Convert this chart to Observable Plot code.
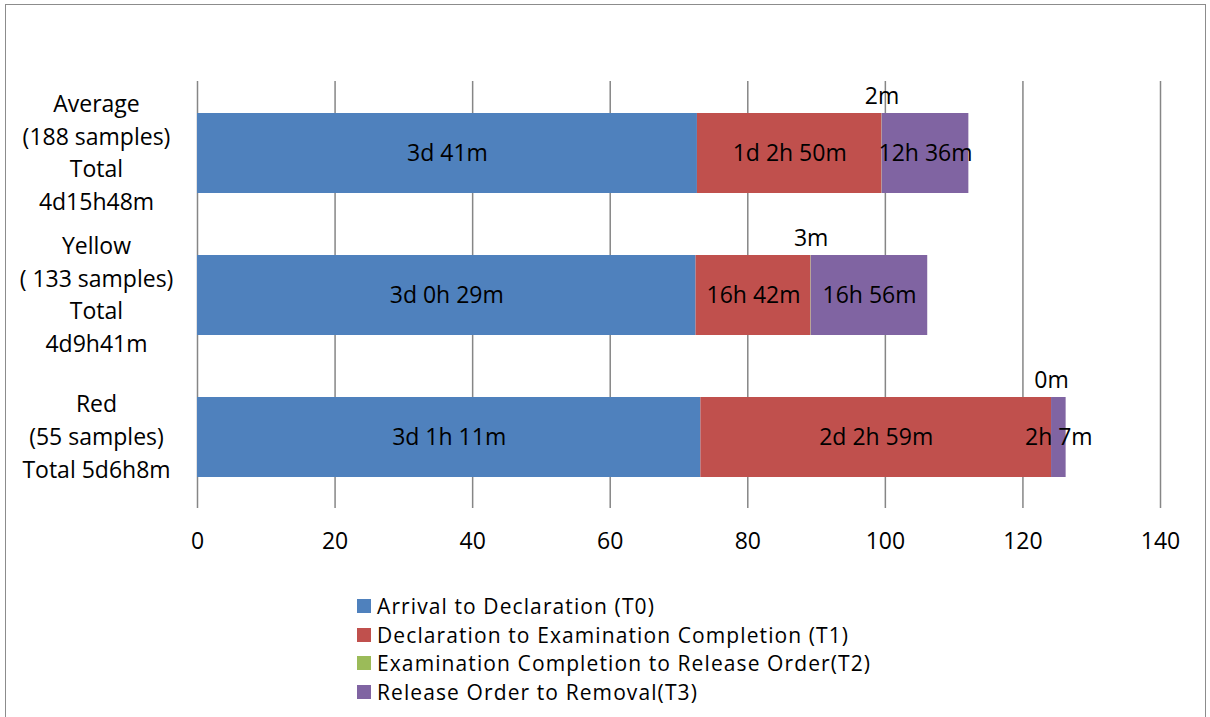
<!DOCTYPE html>
<html><head><meta charset="utf-8">
<script src="https://cdn.jsdelivr.net/npm/d3@7"></script>
<script src="https://cdn.jsdelivr.net/npm/@observablehq/plot@0.6"></script>
<style>
html,body{margin:0;padding:0;background:#fff;}
body{font-family:"Open Sans",Lato,sans-serif;width:1210px;height:717px;overflow:hidden;position:relative;}
#frame{position:absolute;left:5px;top:4px;width:1201px;height:760px;border:1.5px solid #8c8c8c;box-sizing:border-box;}
#chart{position:absolute;left:0;top:0;}
#legend{position:absolute;left:357px;top:592px;font-size:21px;letter-spacing:1.1px;color:#000;}
.row{height:28.5px;line-height:28px;display:flex;align-items:center;white-space:nowrap;}
.sw{width:14px;height:14px;margin-right:6px;flex:none;}
</style>
</head><body>
<div id="frame"></div>
<div id="chart"></div>
<div id="legend"></div>
<script>
const categories = ["Average", "Yellow", "Red"];
const categoryLabels = [
  "Average\n(188 samples)\nTotal\n4d15h48m",
  "Yellow\n( 133 samples)\nTotal\n4d9h41m",
  "Red\n(55 samples)\nTotal 5d6h8m"
];
const seriesNames = [
  "Arrival to Declaration (T0)",
  "Declaration to Examination Completion (T1)",
  "Examination Completion to Release Order(T2)",
  "Release Order to Removal(T3)"
];
const seriesColors = ["#4F81BD", "#C0504D", "#9BBB59", "#8064A2"];
// hours
const t0Hours = [72.68, 72.48, 73.18];
const t1Hours = [26.83, 16.70, 50.98];
const t2Hours = [0.03, 0.05, 0.0];
const t3Hours = [12.60, 16.93, 2.12];
const t0Labels = ["3d 41m", "3d 0h 29m", "3d 1h 11m"];
const t1Labels = ["1d 2h 50m", "16h 42m", "2d 2h 59m"];
const t2Labels = ["2m", "3m", "0m"];
const t3Labels = ["12h 36m", "16h 56m", "2h 7m"];
const xTicks = [0, 20, 40, 60, 80, 100, 120, 140];

const seriesValues = [t0Hours, t1Hours, t2Hours, t3Hours];
const seriesLabels = [t0Labels, t1Labels, t2Labels, t3Labels];

const data = [];
categories.forEach((c, i) => {
  let start = 0;
  seriesNames.forEach((s, j) => {
    data.push({cat: c, series: s, value: seriesValues[j][i], label: seriesLabels[j][i], start});
    start += seriesValues[j][i];
  });
});
const t2Rows = data.filter(d => d.series === seriesNames[2]);
const labelMap = new Map(categories.map((c, i) => [c, categoryLabels[i]]));
const FS = 23;

const chart = Plot.plot({
  width: 1210,
  height: 570,
  marginTop: 81,
  marginBottom: 62,
  marginLeft: 197,
  marginRight: 50,
  style: {fontFamily: "'Open Sans', Lato, sans-serif", fontSize: FS + "px", color: "#000", background: "transparent"},
  x: {domain: [0, 140], label: null},
  y: {domain: categories, paddingInner: 0.44, paddingOuter: 0.22, label: null},
  color: {domain: seriesNames, range: seriesColors},
  marks: [
    Plot.gridX(xTicks, {stroke: "#868686", strokeOpacity: 1, strokeWidth: 1.5}),
    Plot.barX(data, Plot.stackX({x: "value", y: "cat", fill: "series"})),
    Plot.ruleX(t2Rows, {x: d => d.start + d.value / 2, y: "cat", stroke: seriesColors[2], strokeWidth: 2}),
    Plot.text(data, Plot.stackX({x: "value", y: "cat", text: d => d.series === seriesNames[2] ? "" : d.label, fill: "#000", fontSize: FS})),
    Plot.text(t2Rows, {x: d => d.start + d.value / 2, y: "cat", text: "label", dy: -57, fill: "#000", fontSize: FS}),
    Plot.axisX(xTicks, {tickSize: 0, tickPadding: 24, fontSize: FS, label: null, fill: "#000"}),
    Plot.axisY({tickSize: 0, tickPadding: 0, textAnchor: "middle", dx: -101, dy: -3, lineHeight: 1.43, fontSize: FS, tickFormat: d => labelMap.get(d), label: null, fill: "#000"})
  ]
});
document.getElementById("chart").appendChild(chart);

const legend = document.getElementById("legend");
seriesNames.forEach((s, i) => {
  const row = document.createElement("div");
  row.className = "row";
  const sw = document.createElement("span");
  sw.className = "sw";
  sw.style.background = seriesColors[i];
  const t = document.createElement("span");
  t.textContent = s;
  row.appendChild(sw);
  row.appendChild(t);
  legend.appendChild(row);
});
</script>
</body></html>
